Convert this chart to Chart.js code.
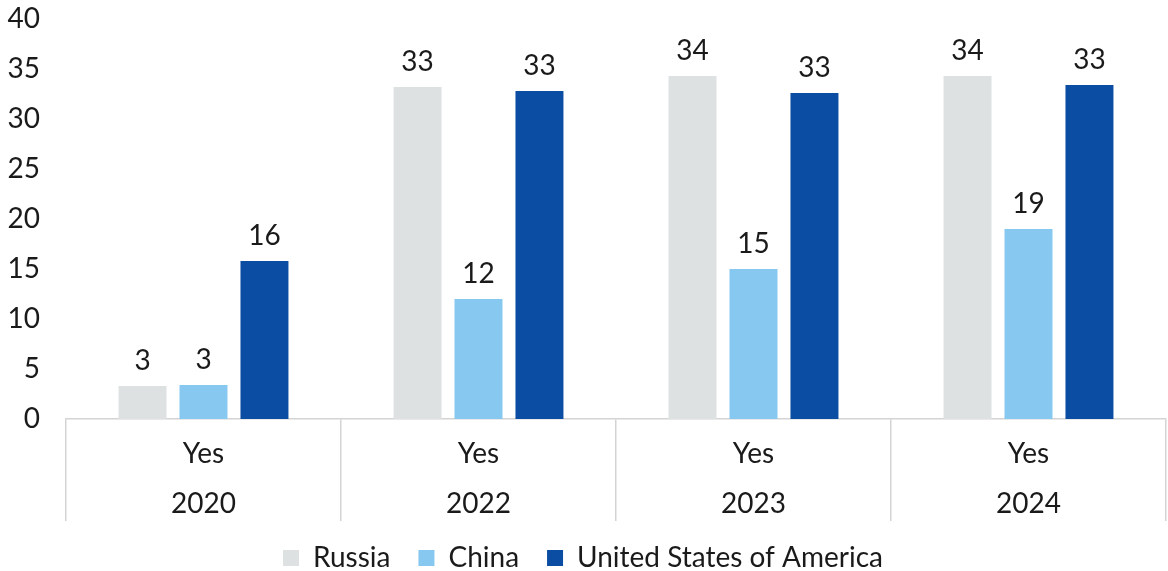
<!DOCTYPE html>
<html>
<head>
<meta charset="utf-8">
<script src="https://cdn.jsdelivr.net/npm/chart.js@4"></script>
<style>
  html, body { margin: 0; padding: 0; background: #fff; }
  #wrap { width: 1168px; height: 571px; position: relative; }
</style>
</head>
<body>
<div id="wrap"><canvas id="yesChart"></canvas></div>
<script>
const years = ['2020', '2022', '2023', '2024'];
const answer = 'Yes';
const russia = [3.3, 33.2, 34.3, 34.3];
const china = [3.4, 12.0, 15.0, 19.0];
const usa = [15.8, 32.8, 32.6, 33.4];
const yTicks = [0, 5, 10, 15, 20, 25, 30, 35, 40];

const textColor = '#1a1a1a';
const fontFamily = 'Lato, "Noto Sans", sans-serif';
const fontSize = 28;

// value labels above each bar
const barLabels = {
    id: 'barLabels',
    afterDatasetsDraw(chart) {
        const ctx = chart.ctx;
        ctx.save();
        ctx.font = fontSize + 'px ' + fontFamily;
        ctx.fillStyle = textColor;
        ctx.textAlign = 'center';
        ctx.textBaseline = 'middle';
        chart.data.datasets.forEach((ds, i) => {
            chart.getDatasetMeta(i).data.forEach((bar, j) => {
                ctx.fillText(Math.round(ds.data[j]), bar.x, bar.y - 25);
            });
        });
        ctx.restore();
    }
};

const ctx = document.getElementById('yesChart');

new Chart(ctx, {
    type: 'bar',
    data: {
        labels: years.map(y => [answer, y]),
        datasets: [{
            label: 'Russia',
            data: russia,
            backgroundColor: '#dee1e2'
        }, {
            label: 'China',
            data: china,
            backgroundColor: '#86c8f0'
        }, {
            label: 'United States of America',
            data: usa,
            backgroundColor: '#0b4da2'
        }]
    },
    options: {
        responsive: true,
        maintainAspectRatio: false,
        animation: false,
        datasets: {
            bar: {
                categoryPercentage: 0.665,
                barPercentage: 0.787
            }
        },
        layout: {
            padding: { top: 0, right: 2, left: 0, bottom: -11 }
        },
        plugins: {
            legend: {
                position: 'bottom',
                labels: {
                    boxWidth: 16,
                    boxHeight: 16,
                    padding: 28,
                    color: textColor,
                    font: { family: fontFamily, size: fontSize }
                }
            },
            tooltip: { enabled: false }
        },
        scales: {
            y: {
                min: 0,
                max: 40,
                afterBuildTicks(scale) {
                    scale.ticks = yTicks.map(v => ({ value: v }));
                },
                afterFit(scale) {
                    scale.width = 66;
                    scale.paddingTop = 19;
                    scale.paddingBottom = 0;
                },
                grid: { display: false, drawTicks: false },
                border: { display: false },
                ticks: {
                    padding: 26,
                    color: textColor,
                    font: { family: fontFamily, size: fontSize }
                }
            },
            x: {
                afterFit(scale) {
                    scale.height = 97;
                },
                grid: {
                    offset: true,
                    drawOnChartArea: false,
                    tickLength: 102,
                    color: '#d4d4d4',
                    lineWidth: 1.5
                },
                border: { display: true, color: '#d4d4d4', width: 1.5 },
                ticks: {
                    padding: -92,
                    color: textColor,
                    font: { family: fontFamily, size: fontSize, lineHeight: 50 / fontSize }
                }
            }
        }
    },
    plugins: [barLabels]
});
</script>
</body>
</html>
